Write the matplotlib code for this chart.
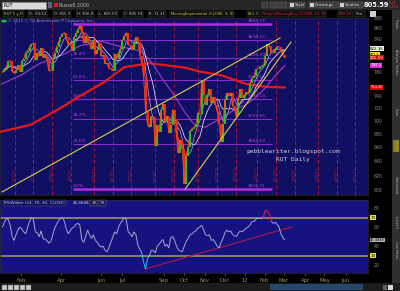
import numpy as np
import pandas as pd
import matplotlib
matplotlib.use("Agg")
import matplotlib.pyplot as plt
from matplotlib.collections import LineCollection
from matplotlib.patches import Rectangle, Circle
from matplotlib.ticker import NullLocator

W, H = 400, 291

# ---- data ----
# trading-session index (0 = 3 Jan 2011), one sample every second session up to 2 Mar 2012
session = np.arange(1, 294, 2)

close = [
    780, 786, 789, 800, 800, 782, 778, 784, 792, 781,
    800, 804, 815, 818, 825, 830, 832, 801, 815, 808,
    823, 806, 810, 801, 783, 782, 805, 815, 826, 835,
    843, 849, 852, 840, 830, 832, 818, 843, 851, 858,
    865, 852, 832, 845, 835, 830, 821, 838, 812, 820,
    832, 808, 810, 795, 796, 787, 786, 783, 812, 805,
    815, 822, 838, 845, 852, 829, 829, 820, 835, 843,
    834, 809, 797, 772, 714, 695, 690, 707, 706, 662,
    693, 683, 717, 727, 698, 707, 681, 694, 718, 702,
    676, 652, 671, 657, 609, 648, 661, 685, 688, 690,
    695, 713, 711, 765, 741, 726, 742, 751, 729, 738,
    726, 715, 696, 668, 695, 734, 745, 740, 745, 723,
    718, 707, 737, 751, 737, 741, 746, 745, 761, 770,
    773, 785, 786, 790, 791, 793, 808, 830, 827, 815,
    814, 822, 826, 826, 818, 810, 805.59,
]

rsi = [
    60, 65, 69, 68, 62, 50, 46, 52, 57, 60,
    58, 55, 53, 60, 66, 70, 68, 55, 54, 50,
    56, 48, 47, 46, 43, 45, 52, 59, 63, 67,
    69, 70, 66, 58, 53, 56, 59, 60, 63, 64,
    62, 47, 44, 50, 57, 52, 48, 52, 46, 44,
    41, 39, 40, 36, 34, 38, 44, 49, 55, 53,
    60, 64, 67, 70, 68, 55, 53, 50, 55, 52,
    41, 37, 33, 23, 16, 27, 30, 36, 35, 33,
    40, 42, 45, 47, 40, 42, 38, 49, 50, 46,
    40, 36, 35, 34, 40, 45, 48, 52, 53, 55,
    56, 59, 60, 62, 57, 52, 51, 52, 46, 47,
    44, 40, 38, 44, 48, 54, 57, 55, 56, 52,
    51, 50, 54, 56, 55, 57, 59, 60, 62, 66,
    66, 68, 70, 70, 70, 71, 78, 77, 74, 66,
    64, 65, 63, 60, 53, 49, 46.4848,
]

sma200_session = [-2, 30, 48, 66, 78, 106, 127, 153, 190, 206, 227, 253, 274, 293]
sma200 = [683, 694, 709, 725, 737, 763, 789, 796, 788, 781, 775, 760, 755, 754.20]

sma50_session = [0, 20, 39, 62, 82, 103, 125, 144, 155, 168, 177, 189, 199, 210,
                 220, 231, 241, 252, 261, 272, 282, 293]
sma50 = [760, 775, 795, 810, 828, 836, 825, 818, 798, 765, 745, 715, 695, 690,
         698, 708, 718, 725, 735, 752, 772, 792.1]

ema3_last = 811.3
sma20_last = 822.36
sma10_last = 820.68
net_change = -9.63

fib_pct = ["0.0%", "23.6%", "38.2%", "50.0%", "61.8%", "76.4%", "88.6%", "100.0%"]
fib_price = [601.71, 664.69, 703.65, 735.14, 766.63, 805.59, 838.15, 868.57]
fib_from, fib_to = 74, 280

trend_a = ([0.5, 288], [597.7, 841.9])
trend_b = ([190, 299.4], [601.71, 834.5])
rsi_trend = ([148.4, 300.4], [16, 60.2])

opex_session = [14, 33, 52, 72, 96, 115, 134, 159, 178, 203, 223, 242, 264, 284,
                303, 327, 347, 366]
opex_label = ["1/21/11", "2/18/11", "3/18/11", "4/15/11", "5/20/11", "6/17/11",
              "7/15/11", "8/19/11", "9/16/11", "10/21/11", "11/18/11", "12/16/11",
              "1/20/12", "2/17/12", "3/16/12", "4/20/12", "5/18/12", "6/15/12"]

month_session = [20, 62, 103, 125, 168, 189, 210, 231, 252, 272, 292, 314, 334, 356]
month_label = ["Feb", "Apr", "Jun", "Jul", "Sep", "Oct", "Nov", "Dec", "12",
               "Feb", "Mar", "Apr", "May", "Jun"]

# 760, 800 and 820 sit under the value flags on the right axis
price_ticks = [600, 620, 640, 660, 680, 700, 720, 740, 780, 840, 860, 880]
rsi_ticks = [20, 40, 60, 80]

XLIM = (-1.55, 379)

fig = plt.figure(figsize=(W / 100, H / 100), dpi=100, facecolor="#000000")

# ---- window chrome drawn in pixel coordinates ----
bg = fig.add_axes([0, 0, 1, 1], zorder=0)
bg.set_xlim(0, W)
bg.set_ylim(H, 0)
bg.axis("off")

bg.add_patch(Rectangle((0, 0), W, 10, fc="#262626", ec="none"))
bg.add_patch(Rectangle((2, 1.5), 44, 7, fc="#dadada", ec="#8a8a8a", lw=0.4))
bg.text(4, 5.2, "RUT", fontsize=3.4, color="#000000", va="center")
bg.add_patch(Rectangle((48, 2), 4, 6, fc="#56667e", ec="none"))
bg.add_patch(Rectangle((54, 3), 3.5, 4, fc="#c82020", ec="none"))
bg.text(59, 5.2, "Russell 2000", fontsize=3.4, color="#b8b8b8", va="center")
for x0, w, lab in [(262, 6, ""), (270, 6, ""), (277, 10, ""), (289, 16, "Style"),
                   (309, 29, "Drawings"), (339, 24, "Studies")]:
    bg.add_patch(Rectangle((x0, 1.8), w, 6.4, fc="#3c3c3c", ec="#6a6a6a", lw=0.3))
    if lab:
        bg.add_patch(Rectangle((x0 + 1, 3), 3.5, 4, fc="#d0d0d0", ec="none"))
        bg.text(x0 + 5.5, 5.2, lab, fontsize=3.0, color="#d8d8d8", va="center")
bg.text(364, 5.3, f"{close[-1]:.2f}", fontsize=4.8, color="#ffffff", va="center",
        fontweight="bold")
bg.text(389, 2.8, f"{net_change:.2f}", fontsize=2.1, color="#e04040", va="center")
bg.text(389, 7.3, "-1.18%", fontsize=2.1, color="#e04040", va="center")

# second header row
row2 = [("RUT 5 y D", 4, "#c8d870"), ("D: 3/2/12", 29, "#d0d0d0"),
        ("O: 815.3", 54, "#d0d0d0"), ("H: 816.8", 77, "#d0d0d0"),
        ("L: 805.59", 99, "#d0d0d0"), ("C: 805.59", 124, "#d0d0d0"),
        ("R: 11.21", 149, "#d0d0d0"),
        ("MovingExponential (CLOSE, 3, 0)", 171, "#e0d040"),
        (f"{ema3_last}", 248, "#e0d040"),
        ("SimpleMovingAvg (CLOSE, 10, 0)", 263, "#e03030"),
        (f"{sma10_last:.2f}", 339, "#e03030"), ("Sim.", 356, "#c0c0c0")]
for lab, x0, col in row2:
    bg.text(x0, 14, lab, fontsize=2.7, color=col, va="center",
            bbox=dict(boxstyle="square,pad=0.2", fc="#0a0a0a", ec="#5a5a5a", lw=0.3))
bg.add_patch(Rectangle((370, 11), 6, 6, fc="#d0d0d0", ec="none"))

# right tab strip
bg.add_patch(Rectangle((392, 10), 8, 273, fc="#303030", ec="none"))
for y0, lab in [(24, "Trade"), (62, "Analyze Trades"), (112, "Scan"), (145, "Charts"),
                (185, "Dashboard"), (222, "Level II"), (250, "Live News")]:
    bg.text(396, y0, lab, fontsize=2.4, color="#b0b0b0", rotation=-90,
            ha="center", va="center")
bg.add_patch(Rectangle((393, 140), 6, 12, fc="#a89000", ec="none", alpha=0.8))

# bottom toolbar
bg.add_patch(Rectangle((0, 283), W, 8, fc="#1c1c1c", ec="none"))
for x0 in [2, 8, 14, 20, 26]:
    bg.add_patch(Rectangle((x0, 284.5), 5, 5, fc="#c8c8c8", ec="#606060", lw=0.3))
bg.add_patch(Rectangle((270, 284), 93, 6, fc="#24476c", ec="none"))
bg.add_patch(Rectangle((383, 284.5), 4, 5, fc="#606060", ec="none"))
bg.add_patch(Rectangle((388, 284.5), 5, 5, fc="#d8d8d8", ec="none"))

# ---- price panel ----
ax = fig.add_axes([0, 1 - 195 / H, 368 / W, 177 / H], zorder=1)
ax.set_facecolor("#110f62")
ax.set_yscale("log")
ax.set_xlim(*XLIM)
ax.set_ylim(593.7, 880.2)
ax.set_xticks([])
ax.yaxis.tick_right()
ax.set_yticks(price_ticks)
ax.set_yticklabels([str(v) for v in price_ticks])
ax.yaxis.set_minor_locator(NullLocator())
ax.tick_params(axis="y", length=0, pad=4, labelsize=3.3, labelcolor="#8c8c8c")
for s in ax.spines.values():
    s.set_color("#2a2a2a")
    s.set_linewidth(0.5)

for d, lab in zip(opex_session, opex_label):
    ax.axvline(d, color="#a01838", lw=0.7, ls=(0, (4, 2.5)), zorder=1)
    ax.text(d, 612, lab, rotation=90, fontsize=2.6, color="#b02040",
            ha="center", va="bottom", zorder=1.1)

for p, pct in zip(fib_price, fib_pct):
    heavy = pct in ("0.0%", "100.0%")
    ax.hlines(p, fib_from, fib_to, color="#b02ee0" if heavy else "#8a2ccc",
              lw=1.8 if heavy else 0.8, zorder=1.5)
    if p < 830:
        ax.text(fib_from, p * 1.003, pct, fontsize=3.2, color="#b048d8",
                ha="left", va="bottom", zorder=1.6)
    ax.text(255, p * 1.003, f"${p:.2f}", fontsize=3.2, color="#b048d8",
            ha="left", va="bottom", zorder=1.6)

ax.plot(sma200_session, sma200, color="#e81818", lw=1.6, zorder=3)
ax.plot(sma50_session, sma50, color="#a83cc8", lw=0.8, zorder=3)
closes = pd.Series(close)
ax.plot(session, closes.rolling(10, min_periods=1).mean(), color="#d8d0f0", lw=0.6, zorder=3)
ax.plot(session, closes.rolling(5, min_periods=1).mean(), color="#9c90d0", lw=0.6, zorder=3)

prev = np.array(close[:-1])
cur = np.array(close[1:])
up = cur >= prev
ax.vlines(session[1:], np.minimum(prev, cur), np.maximum(prev, cur),
          colors=np.where(up, "#28c028", "#f02818"), lw=1.5, zorder=4)
ax.plot(session, close, color="#ff4a10", lw=0.6, zorder=4.5)

ax.plot(*trend_a, color="#d8cf48", lw=0.8, zorder=5)
ax.plot(*trend_b, color="#d8cf48", lw=0.8, zorder=5)

ax.text(0.796, 0.243, "pebblewriter.blogspot.com", transform=ax.transAxes,
        family="DejaVu Sans Mono", fontsize=4.5, color="#d4d4d4", ha="center", va="center", zorder=6)
ax.text(0.796, 0.198, "RUT Daily", transform=ax.transAxes,
        family="DejaVu Sans Mono", fontsize=4.5, color="#d4d4d4", ha="center", va="center", zorder=6)

ax.add_patch(Circle((0.011, 0.982), 0.008, transform=ax.transAxes, fc="#30b040", ec="none", zorder=6))
ax.text(0.022, 0.982, "\u00a9 2011 \u00a9 TD Ameritrade IP Company, Inc.", transform=ax.transAxes,
        fontsize=2.9, color="#9a9ab0", va="center", zorder=6)


def flag(axis, value, text, face, fg, z, size=2.9):
    axis.text(1.006, value, text, transform=axis.get_yaxis_transform(), fontsize=size,
              color=fg, ha="left", va="center", clip_on=False, zorder=z,
              bbox=dict(boxstyle="square,pad=0.1", fc=face, ec="none"))


flag(ax, ema3_last, f"{ema3_last}", "#f0e020", "#000000", 7, size=2.3)
flag(ax, sma20_last, f"{sma20_last:.2f}", "#f2f2f2", "#000000", 8)
flag(ax, close[-1], f"{close[-1]:.2f}", "#e00000", "#ffffff", 8)
flag(ax, sma50[-1], f"{sma50[-1]}", "#e030e0", "#ffffff", 8)
flag(ax, sma200[-1], f"{sma200[-1]:.2f}", "#e00000", "#ffffff", 8, size=2.6)

# ---- RSI panel ----
ax2 = fig.add_axes([0, 1 - 273 / H, 368 / W, 73.5 / H], zorder=1)
ax2.set_facecolor("#151380")
ax2.set_xlim(*XLIM)
ax2.set_ylim(11.8, 89)
ax2.yaxis.tick_right()
ax2.set_yticks(rsi_ticks)
ax2.set_yticklabels([str(v) for v in rsi_ticks])
ax2.tick_params(axis="y", length=0, pad=4, labelsize=3.3, labelcolor="#8c8c8c")
ax2.set_xticks(month_session)
ax2.set_xticklabels(month_label)
ax2.tick_params(axis="x", length=1.5, width=0.5, color="#a08c5a", pad=2,
                labelsize=3.8, labelcolor="#a08c5a")
for s in ax2.spines.values():
    s.set_color("#2a2a2a")
    s.set_linewidth(0.5)

ax2.axhline(70, color="#8c8064", lw=1.4, zorder=1)
ax2.axhline(30, color="#8c8064", lw=1.4, zorder=1)
ax2.plot(*rsi_trend, color="#b01848", lw=0.8, zorder=2)

pts = np.column_stack([session, rsi])
segs = np.stack([pts[:-1], pts[1:]], axis=1)
r = np.array(rsi)
seg_col = []
for a, b in zip(r[:-1], r[1:]):
    if max(a, b) > 70:
        seg_col.append("#e02828")
    elif min(a, b) < 30:
        seg_col.append("#30c8f0")
    else:
        seg_col.append("#a8a8cc")
ax2.add_collection(LineCollection(segs, colors=seg_col, lw=0.7, zorder=3))

ax2.text(0.012, 0.955, "RSIWilder (14, 70, 30, CLOSE)", transform=ax2.transAxes,
         fontsize=3.0, color="#c8c8c8", va="center",
         bbox=dict(boxstyle="square,pad=0.2", fc="#101060", ec="#5a5a7a", lw=0.3))
ax2.text(0.198, 0.955, f"{rsi[-1]:.4f}", transform=ax2.transAxes, fontsize=3.0,
         color="#c8c8c8", va="center")
ax2.text(0.248, 0.955, "30", transform=ax2.transAxes, fontsize=3.0, color="#e8d840",
         va="center", bbox=dict(boxstyle="square,pad=0.2", fc="#101060", ec="#8a8a5a", lw=0.3))
ax2.text(0.272, 0.955, "70", transform=ax2.transAxes, fontsize=3.0, color="#e8d840",
         va="center", bbox=dict(boxstyle="square,pad=0.2", fc="#101060", ec="#8a8a5a", lw=0.3))

flag(ax2, 70, "70", "#f0e020", "#000000", 8)
flag(ax2, 30, "30", "#f0e020", "#000000", 8)
flag(ax2, rsi[-1], f"{rsi[-1]:.4f}", "#b8b8b8", "#000000", 8, size=2.6)

fig.savefig("out.png", dpi=100, facecolor=fig.get_facecolor())
